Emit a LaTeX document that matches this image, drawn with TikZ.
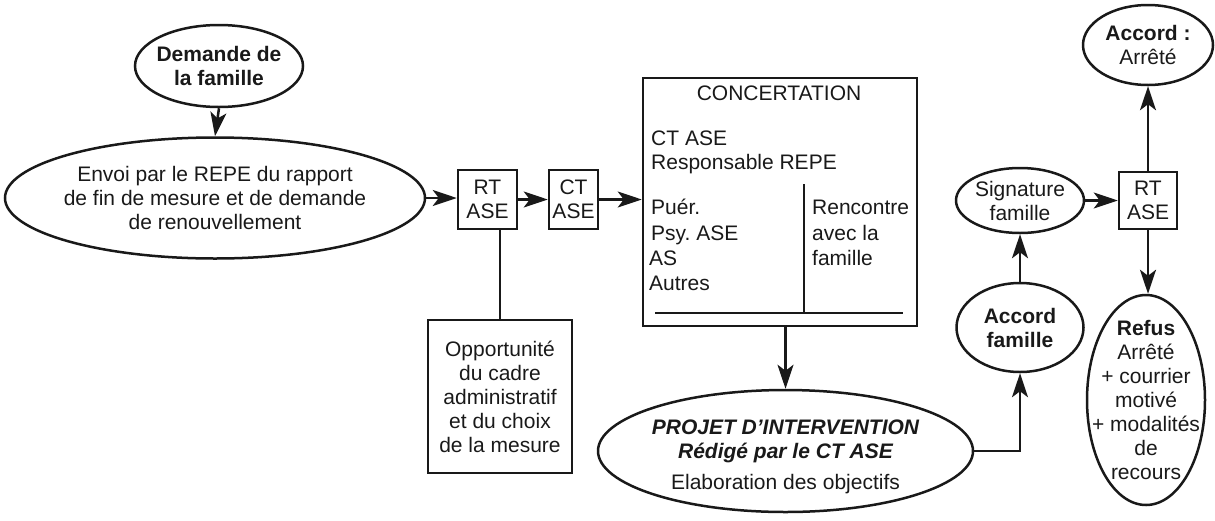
\documentclass[tikz,border=0pt]{standalone}
\usepackage{fontspec}
\setmainfont{Liberation Sans}
\usetikzlibrary{shapes.geometric,arrows.meta}
\frenchspacing

\begin{document}
\begin{tikzpicture}[x=1pt,y=-1pt,
  every node/.style={font=\fontsize{21}{24}\selectfont, align=center, inner sep=0pt, text=black!90},
  line/.style={line width=2.5pt, draw=black!90},
  arr/.style={line, -{Stealth[length=24pt,width=16pt,inset=6pt]}},
  oval/.style={ellipse, draw=black!90, line width=2.5pt},
  box/.style={rectangle, draw=black!90, line width=2.5pt},
  col/.style={anchor=base west}]

\useasboundingbox (0,0) rectangle (1215,520);

% left part: request and report
\node[oval, minimum width=168pt, minimum height=82pt,
      label={center:{\bfseries Demande de\\\bfseries la famille}}] (dem) at (219,66) {};
\node[oval, minimum width=420pt, minimum height=121pt,
      label={center:{Envoi par le REPE du rapport\\de fin de mesure et de demande\\de renouvellement}}] (envoi) at (215,198) {};

% decision boxes
\node[box, minimum width=59pt, minimum height=59pt] (rt1) at (487.5,199.5) {RT\\ASE};
\node[box, minimum width=49pt, minimum height=59pt] (ct) at (573.5,199.5) {CT\\ASE};
\node[box, minimum width=144pt, minimum height=153pt] (opp) at (500,396.5)
  {Opportunité\\du cadre\\administratif\\et du choix\\de la mesure};

% concertation frame
\node[box, minimum width=274pt, minimum height=248pt] (conc) at (780,202) {};
\node[anchor=base] (conc-t) at (779,100) {CONCERTATION};
\node[col] (c1) at (651,145) {CT ASE};
\node[col] (c2) at (651,169) {Responsable REPE};
\node[col] (c3) at (651,214) {Puér.};
\node[col] (c4) at (651,240) {Psy. ASE};
\node[col] (c5) at (649,265) {AS};
\node[col] (c6) at (649,290) {Autres};
\node[col] (r1) at (812,214) {Rencontre};
\node[col] (r2) at (812,240) {avec la};
\node[col] (r3) at (812,265) {famille};
\coordinate (vtop) at (804,184);
\coordinate (vbot) at (804,313);
\coordinate (hl) at (655,313);
\coordinate (hr) at (903,313);
\draw[line] (vtop) -- (vbot);
\draw[line] (hl) -- (hr);

% intervention project
\node[oval, minimum width=375pt, minimum height=122pt,
      label={[yshift=-6pt]center:{\bfseries\itshape PROJET D’INTERVENTION\\\bfseries\itshape Rédigé par le CT ASE\\[7pt]Elaboration des objectifs}}] (projet) at (785.5,451) {};

% right part: agreement and signature
\node[oval, minimum width=127pt, minimum height=89pt,
      label={center:{\bfseries Accord\\\bfseries famille}}] (accf) at (1020,327.5) {};
\node[oval, minimum width=128pt, minimum height=65pt,
      label={center:{Signature\\famille}}] (sig) at (1020,200.5) {};
\node[box, minimum width=58pt, minimum height=57pt] (rt2) at (1148,200.5) {RT\\ASE};
\node[oval, minimum width=130pt, minimum height=80pt,
      label={center:{\bfseries Accord :\\Arrêté}}] (acc) at (1148,45) {};
\node[oval, minimum width=118pt, minimum height=210pt,
      label={center:{\bfseries Refus\\Arrêté\\+ courrier\\motivé\\+ modalités\\de\\recours}}] (refus) at (1146,400) {};

% connectors
\draw[arr] (dem.south) -- (envoi.north);
\draw[arr] (envoi.east) -- (envoi.east -| rt1.west);
\draw[arr] (rt1.east) -- (rt1.east -| ct.west);
\draw[arr] (ct.east) -- (ct.east -| conc.west);
\draw[line] (opp.north |- rt1.south) -- (opp.north);
\draw[arr] (projet.north |- conc.south) -- (projet.north);
\draw[arr] (projet.east) -| (accf.south);
\draw[arr] (accf.north) -- (sig.south);
\draw[arr] (sig.east) -- (sig.east -| rt2.west);
\draw[arr] (rt2.north) -- (rt2.north |- acc.south);
\draw[arr] (rt2.south) -- (rt2.south |- refus.north);
\end{tikzpicture}
\end{document}
